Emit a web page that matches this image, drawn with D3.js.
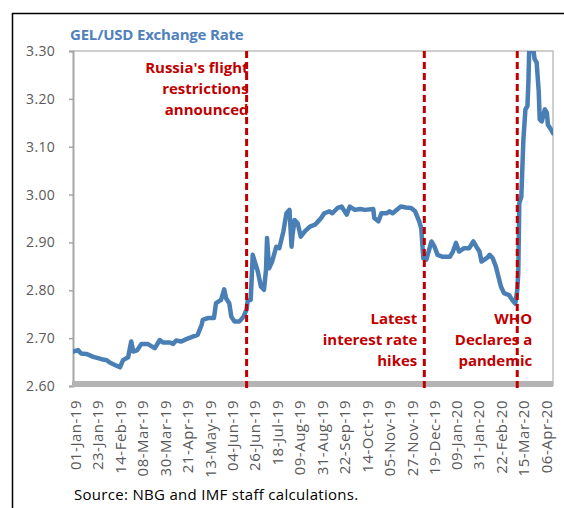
<!DOCTYPE html>
<html>
<head>
<meta charset="utf-8">
<script src="https://cdn.jsdelivr.net/npm/d3@7"></script>
<style>
  body { margin: 0; background: #fff; }
  text { font-family: "Open Sans", sans-serif; }
</style>
</head>
<body>
<div id="chart"></div>
<script>
// GEL per USD
const dates = [
  "2019-01-01","2019-01-06","2019-01-09","2019-01-14","2019-01-21","2019-01-29","2019-02-03","2019-02-06",
  "2019-02-11","2019-02-16","2019-02-19","2019-02-24","2019-02-27","2019-03-01","2019-03-05","2019-03-09",
  "2019-03-15","2019-03-22","2019-03-27","2019-03-30","2019-04-06","2019-04-09","2019-04-12","2019-04-17",
  "2019-04-22","2019-04-27","2019-05-03","2019-05-07","2019-05-08","2019-05-13","2019-05-19","2019-05-21",
  "2019-05-26","2019-05-29","2019-05-31","2019-06-03","2019-06-05","2019-06-08","2019-06-13","2019-06-17",
  "2019-06-20","2019-06-21","2019-06-24","2019-06-26","2019-06-28","2019-07-01","2019-07-04","2019-07-07",
  "2019-07-09","2019-07-10","2019-07-12","2019-07-15","2019-07-19","2019-07-22","2019-07-26","2019-07-29",
  "2019-08-01","2019-08-03","2019-08-04","2019-08-06","2019-08-09","2019-08-12","2019-08-16","2019-08-21",
  "2019-08-26","2019-08-29","2019-09-01","2019-09-04","2019-09-09","2019-09-12","2019-09-17","2019-09-21",
  "2019-09-26","2019-09-29","2019-10-04","2019-10-09","2019-10-14","2019-10-22","2019-10-23","2019-10-27",
  "2019-10-30","2019-11-04","2019-11-07","2019-11-10","2019-11-15","2019-11-18","2019-11-23","2019-11-28",
  "2019-12-02","2019-12-06","2019-12-08","2019-12-10","2019-12-13","2019-12-18","2019-12-21","2019-12-24",
  "2019-12-29","2020-01-05","2020-01-08","2020-01-11","2020-01-14","2020-01-19","2020-01-24","2020-01-28",
  "2020-01-31","2020-02-03","2020-02-05","2020-02-10","2020-02-13","2020-02-16","2020-02-19","2020-02-22",
  "2020-02-24","2020-02-27","2020-03-03","2020-03-06","2020-03-09","2020-03-11","2020-03-12","2020-03-13",
  "2020-03-15","2020-03-17","2020-03-19","2020-03-21","2020-03-22","2020-03-23","2020-03-25","2020-03-28",
  "2020-03-30","2020-04-01","2020-04-02","2020-04-04","2020-04-07","2020-04-09","2020-04-10","2020-04-13",
  "2020-04-15"
];
const rates = [
  2.672,2.675,2.668,2.667,2.661,2.656,2.654,2.649,
  2.644,2.639,2.654,2.660,2.693,2.672,2.675,2.688,
  2.688,2.679,2.696,2.691,2.691,2.688,2.695,2.693,
  2.698,2.702,2.707,2.728,2.738,2.742,2.742,2.773,
  2.780,2.802,2.783,2.773,2.745,2.735,2.735,2.745,
  2.760,2.778,2.780,2.874,2.860,2.839,2.808,2.801,
  2.843,2.909,2.846,2.860,2.891,2.888,2.923,2.961,
  2.968,2.891,2.916,2.947,2.940,2.912,2.923,2.933,
  2.937,2.944,2.951,2.961,2.965,2.961,2.972,2.975,
  2.958,2.975,2.968,2.970,2.968,2.970,2.951,2.944,
  2.961,2.961,2.965,2.961,2.970,2.975,2.973,2.972,
  2.965,2.944,2.930,2.867,2.864,2.902,2.891,2.874,
  2.870,2.870,2.881,2.899,2.881,2.888,2.888,2.902,
  2.891,2.881,2.860,2.867,2.874,2.867,2.850,2.825,
  2.808,2.794,2.790,2.780,2.772,2.800,2.836,2.982,
  2.996,3.115,3.178,3.185,3.241,3.330,3.330,3.283,
  3.276,3.216,3.157,3.153,3.178,3.171,3.146,3.136,
  3.128
];

const eventDates = ["2019-06-20", "2019-12-11", "2020-03-11"];
const eventLabels = [
  ["Russia's flight", "restrictions", "announced"],
  ["Latest", "interest rate", "hikes"],
  ["WHO", "Declares a", "pandemic"]
];

const tickDates = [
  "2019-01-01","2019-01-23","2019-02-14","2019-03-08","2019-03-30","2019-04-21","2019-05-13",
  "2019-06-04","2019-06-26","2019-07-18","2019-08-09","2019-08-31","2019-09-22","2019-10-14",
  "2019-11-05","2019-11-27","2019-12-19","2020-01-09","2020-01-31","2020-02-22","2020-03-15","2020-04-06"
];
const yTicks = [2.6, 2.7, 2.8, 2.9, 3.0, 3.1, 3.2, 3.3];

const width = 564, height = 508;
const margin = { top: 51, right: 11, bottom: 122, left: 73 };
const parse = d3.timeParse("%Y-%m-%d");

const data = dates.map((d, i) => ({ date: parse(d), value: rates[i] }));

const svg = d3.select("#chart").append("svg")
  .attr("width", width)
  .attr("height", height);

// outer frame (runs off the page on the right and bottom)
svg.append("rect")
  .attr("x", 12.5).attr("y", 13.5)
  .attr("width", 600).attr("height", 600)
  .attr("fill", "none")
  .attr("stroke", "#000")
  .attr("stroke-width", 1.5);

const x = d3.scaleTime()
  .domain([parse("2019-01-01"), parse("2020-04-15")])
  .range([margin.left, width - margin.right]);

const y = d3.scaleLinear()
  .domain([2.6, 3.3])
  .range([height - margin.bottom, margin.top]);

// title
svg.append("text")
  .attr("x", margin.left - 3)
  .attr("y", 40)
  .attr("fill", "#4f81bd")
  .attr("font-weight", "bold")
  .attr("font-size", "15px")
  .attr("letter-spacing", "-0.2px")
  .text("GEL/USD Exchange Rate");

// plot area border, top and right
svg.append("path")
  .attr("d", `M${x.range()[0]},${y(3.3)}H${x.range()[1]}V${y(2.6)}`)
  .attr("fill", "none")
  .attr("stroke", "#c0c0c0")
  .attr("stroke-width", 1.5);

// y axis
const yAxis = svg.append("g")
  .attr("transform", `translate(${margin.left},0)`)
  .call(d3.axisLeft(y).tickValues(yTicks).tickFormat(d3.format(".2f")).tickSize(4).tickPadding(14));
yAxis.select(".domain").attr("stroke", "#a6a6a6").attr("stroke-width", 2);
yAxis.selectAll(".tick line").attr("stroke", "#a6a6a6").attr("stroke-width", 1.5);
yAxis.selectAll(".tick text")
  .attr("fill", "#595959")
  .attr("font-size", "14px")
  .attr("letter-spacing", "0.3px")
  .attr("font-family", "Open Sans, sans-serif");

// clip for the line
svg.append("clipPath").attr("id", "plot-clip")
  .append("rect")
  .attr("x", x.range()[0]).attr("y", y(3.3))
  .attr("width", x.range()[1] - x.range()[0])
  .attr("height", y(2.6) - y(3.3));

const line = d3.line()
  .x(d => x(d.date))
  .y(d => y(d.value));

svg.append("path")
  .datum(data)
  .attr("clip-path", "url(#plot-clip)")
  .attr("fill", "none")
  .attr("stroke", "#4a7fb5")
  .attr("stroke-width", 4.5)
  .attr("stroke-linejoin", "round")
  .attr("stroke-linecap", "round")
  .attr("d", line);

// x axis: thick grey band along 2.60
const xAxis = svg.append("g")
  .attr("transform", `translate(0,${y(2.6)})`)
  .call(d3.axisBottom(x).tickValues(tickDates.map(parse)).tickFormat(d3.timeFormat("%d-%b-%y")).tickSize(0));
xAxis.select(".domain").remove();
xAxis.insert("rect", ":first-child")
  .attr("x", x.range()[0] - 1)
  .attr("y", -5)
  .attr("width", x.range()[1] - x.range()[0] + 1)
  .attr("height", 6)
  .attr("fill", "#b4b4b4");
xAxis.selectAll(".tick text")
  .attr("transform", "rotate(-90)")
  .attr("x", -14)
  .attr("y", 2)
  .attr("dy", "0.35em")
  .attr("text-anchor", "end")
  .attr("fill", "#595959")
  .attr("font-size", "15px")
  .attr("letter-spacing", "0.5px")
  .attr("font-family", "Open Sans, sans-serif");

// event markers
const labelOffsets = [2, -7, 15];
const labelTops = [3.255, 2.73, 2.73];

eventDates.forEach((d, i) => {
  const ex = x(parse(d));
  svg.append("line")
    .attr("x1", ex).attr("x2", ex)
    .attr("y1", y(3.3)).attr("y2", y(2.6) + 2)
    .attr("stroke", "#c00000")
    .attr("stroke-width", 3)
    .attr("stroke-dasharray", "7,4");

  const t = svg.append("text")
    .attr("x", ex + labelOffsets[i])
    .attr("y", y(labelTops[i]))
    .attr("text-anchor", "end")
    .attr("fill", "#c00000")
    .attr("font-weight", "bold")
    .attr("font-size", "15px");
  eventLabels[i].forEach((s, j) => {
    t.append("tspan")
      .attr("x", ex + labelOffsets[i])
      .attr("dy", j === 0 ? 0 : 21)
      .text(s);
  });
});

// source note
svg.append("text")
  .attr("x", 74)
  .attr("y", 500)
  .attr("fill", "#000")
  .attr("font-size", "15px")
  .attr("letter-spacing", "0.3px")
  .text("Source: NBG and IMF staff calculations.");
</script>
</body>
</html>
